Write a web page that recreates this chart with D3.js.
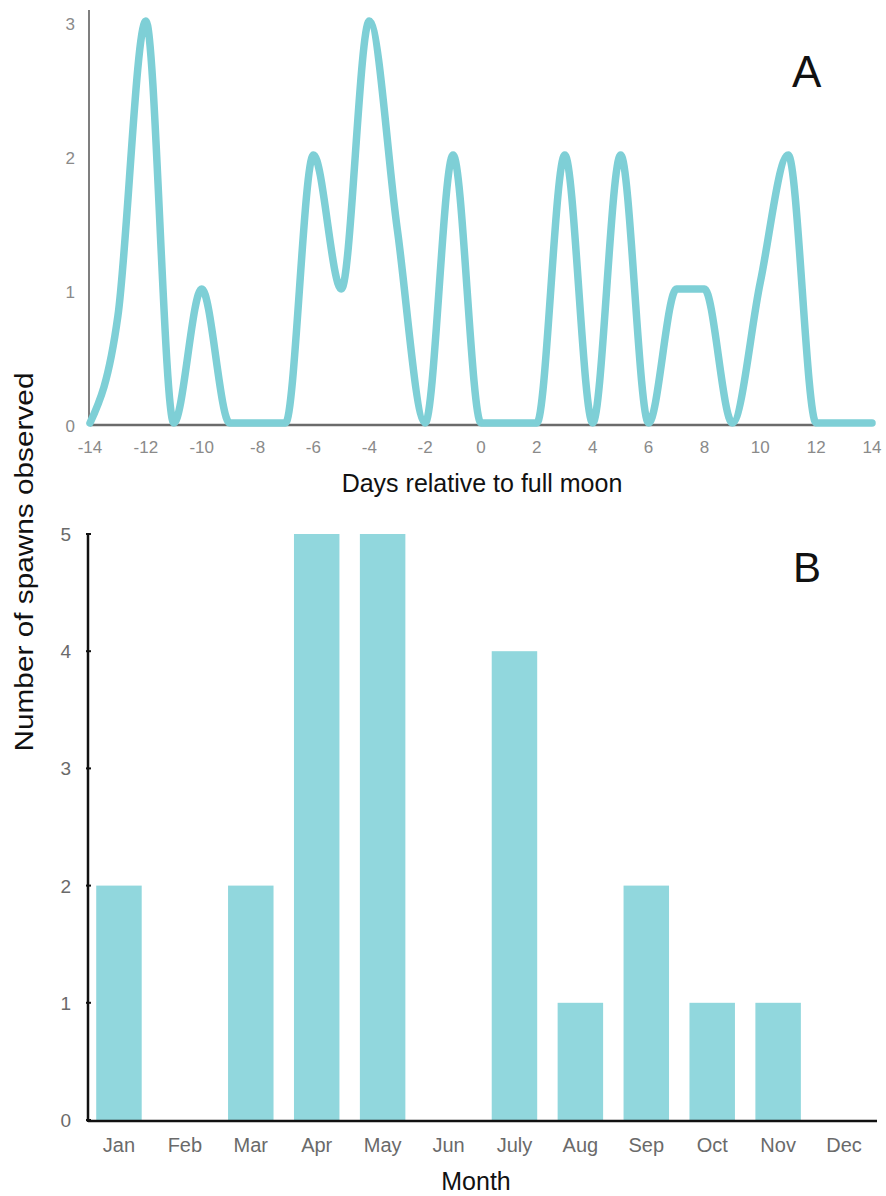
<!DOCTYPE html>
<html>
<head>
<meta charset="utf-8">
<script src="https://cdn.jsdelivr.net/npm/d3@7"></script>
<style>
  html, body { margin: 0; padding: 0; background: #ffffff; }
  svg { display: block; font-family: "Liberation Sans", Arial, sans-serif; }
</style>
</head>
<body>
<svg id="chart" width="886" height="1196"></svg>
<script>
// ---- Data ----
const days = [-14,-13,-12,-11,-10,-9,-8,-7,-6,-5,-4,-3,-2,-1,0,1,2,3,4,5,6,7,8,9,10,11,12,13,14];
const spawnsByDay = [0,0.8,3,0,1,0,0,0,2,1,3,1.45,0,2,0,0,0,2,0,2,0,1,1,0,1.05,2,0,0,0];
const dayTicks = [-14,-12,-10,-8,-6,-4,-2,0,2,4,6,8,10,12,14];
const dayYTicks = [0,1,2,3];

const months = ["Jan","Feb","Mar","Apr","May","Jun","July","Aug","Sep","Oct","Nov","Dec"];
const spawnsByMonth = [2,0,2,5,5,0,4,1,2,1,1,0];
const monthYTicks = [0,1,2,3,4,5];

const lineColor = "#7ecfd6";
const barColor = "#91d7dd";

const svg = d3.select("#chart");

// ---- Panel A ----
const xA = d3.scaleLinear().domain([-14, 14]).range([90, 872]);
const yA = d3.scaleLinear().domain([0, 3]).range([423, 21]);

const gA = svg.append("g");

gA.append("line")
  .attr("x1", xA(-14)).attr("x2", xA(12))
  .attr("y1", yA(0) + 2).attr("y2", yA(0) + 2)
  .attr("stroke", "#6b6b6b").attr("stroke-width", 2.5);
gA.append("line")
  .attr("x1", 89).attr("x2", 89)
  .attr("y1", 10).attr("y2", yA(0) + 3)
  .attr("stroke", "#555").attr("stroke-width", 1.5);

gA.selectAll("text.xt").data(dayTicks).enter().append("text")
  .attr("class", "xt")
  .attr("x", d => xA(d)).attr("y", 453)
  .attr("text-anchor", "middle")
  .attr("font-size", 17).attr("fill", "#8a8a8a")
  .text(d => d);
gA.selectAll("text.yt").data(dayYTicks).enter().append("text")
  .attr("class", "yt")
  .attr("x", 75).attr("y", d => yA(d) + 9)
  .attr("text-anchor", "end")
  .attr("font-size", 17).attr("fill", "#8a8a8a")
  .text(d => d);

const lineGen = d3.line()
  .x((d, i) => xA(days[i]))
  .y(d => yA(d))
  .curve(d3.curveMonotoneX);
gA.append("path")
  .datum(spawnsByDay)
  .attr("d", lineGen)
  .attr("fill", "none")
  .attr("stroke", lineColor)
  .attr("stroke-width", 7.5)
  .attr("stroke-linejoin", "round")
  .attr("stroke-linecap", "round");

gA.append("text")
  .attr("x", 482).attr("y", 492)
  .attr("text-anchor", "middle")
  .attr("font-size", 25).attr("fill", "#111")
  .text("Days relative to full moon");

gA.append("text")
  .attr("x", 792).attr("y", 87)
  .attr("font-size", 44).attr("fill", "#111")
  .text("A");

// ---- Panel B ----
const xB = d3.scaleBand().domain(months).range([86, 877])
  .paddingInner(0.31).paddingOuter(0.155);
const yB = d3.scaleLinear().domain([0, 5]).range([1120, 534]);

const gB = svg.append("g");

gB.selectAll("rect").data(spawnsByMonth).enter().append("rect")
  .attr("x", (d, i) => xB(months[i]))
  .attr("y", d => yB(d))
  .attr("width", xB.bandwidth())
  .attr("height", d => yB(0) - yB(d))
  .attr("fill", barColor);

gB.append("line")
  .attr("x1", 88).attr("x2", 877)
  .attr("y1", yB(0) + 1).attr("y2", yB(0) + 1)
  .attr("stroke", "#111").attr("stroke-width", 2.5);
gB.append("line")
  .attr("x1", 88).attr("x2", 88)
  .attr("y1", yB(5) - 1).attr("y2", yB(0) + 2)
  .attr("stroke", "#111").attr("stroke-width", 2.5);
gB.selectAll("line.tk").data(monthYTicks).enter().append("line")
  .attr("class", "tk")
  .attr("x1", 86).attr("x2", 91)
  .attr("y1", d => yB(d)).attr("y2", d => yB(d))
  .attr("stroke", "#111").attr("stroke-width", 2);

gB.selectAll("text.yt").data(monthYTicks).enter().append("text")
  .attr("class", "yt")
  .attr("x", 71).attr("y", d => yB(d) + 7)
  .attr("text-anchor", "end")
  .attr("font-size", 19).attr("fill", "#6a6a6a")
  .text(d => d);

gB.selectAll("text.xt").data(months).enter().append("text")
  .attr("class", "xt")
  .attr("x", d => xB(d) + xB.bandwidth() / 2).attr("y", 1152)
  .attr("text-anchor", "middle")
  .attr("font-size", 20).attr("fill", "#6a6a6a")
  .text(d => d);

gB.append("text")
  .attr("x", 476).attr("y", 1190)
  .attr("text-anchor", "middle")
  .attr("font-size", 25).attr("fill", "#111")
  .text("Month");

gB.append("text")
  .attr("x", 793).attr("y", 582)
  .attr("font-size", 42).attr("fill", "#111")
  .text("B");

svg.append("text")
  .attr("transform", "translate(33,562) rotate(-90)")
  .attr("text-anchor", "middle")
  .attr("font-size", 25).attr("fill", "#111")
  .attr("textLength", 379).attr("lengthAdjust", "spacingAndGlyphs")
  .text("Number of spawns observed");
</script>
</body>
</html>
